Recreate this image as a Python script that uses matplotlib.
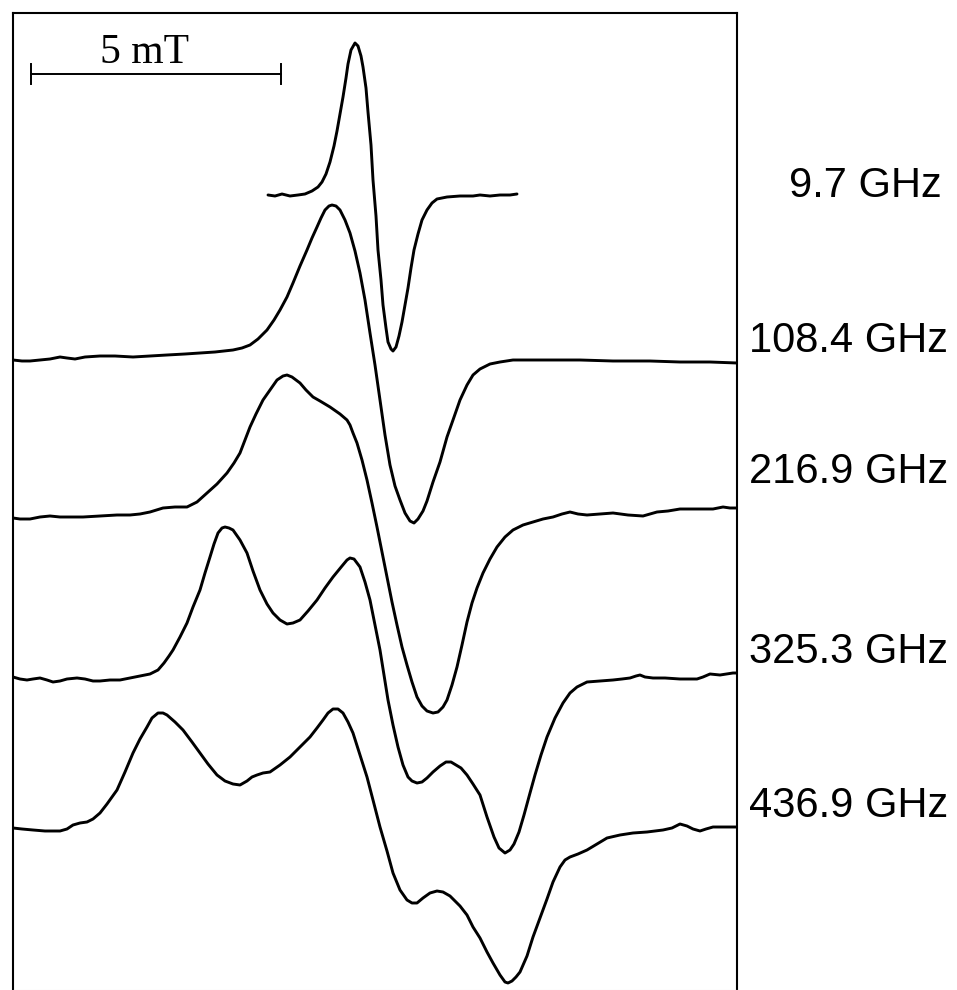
import numpy as np
import matplotlib
matplotlib.use("Agg")
import matplotlib.pyplot as plt

# Magnetic field (mT, relative to left edge of window) and derivative signal (a.u.)
field_97 = [5.10, 5.24, 5.38, 5.54, 5.70, 5.84, 5.98, 6.10, 6.18, 6.26, 6.34, 6.42,
            6.48, 6.54, 6.60, 6.66, 6.70, 6.76, 6.84, 6.90, 6.96, 7.00, 7.06, 7.10,
            7.16, 7.20, 7.26, 7.30, 7.36, 7.40, 7.46, 7.50, 7.56, 7.60, 7.66, 7.72,
            7.78, 7.84, 7.90, 7.96, 8.02, 8.10, 8.18, 8.28, 8.38, 8.48, 8.68, 8.94,
            9.20, 9.34, 9.54, 9.74, 9.94, 10.08]
signal_97 = [0.0, -0.1, 0.1, -0.1, 0.0, 0.1, 0.4, 0.8, 1.3, 2.1, 3.3, 4.9,
             6.4, 8.1, 9.8, 11.7, 13.1, 14.5, 15.2, 14.9, 13.9, 12.8, 10.7, 8.3,
             5.0, 1.5, -2.1, -5.5, -8.5, -11.0, -13.3, -14.7, -15.4, -15.6, -15.2, -14.1,
             -12.7, -11.0, -9.3, -7.3, -5.5, -3.9, -2.5, -1.5, -0.8, -0.4, -0.2, -0.1,
             -0.1, 0.0, -0.1, 0.0, 0.0, 0.1]

field_108 = [0.00, 0.18, 0.34, 0.54, 0.74, 0.94, 1.08, 1.24, 1.44, 1.74, 2.04, 2.40,
             2.74, 3.08, 3.44, 3.74, 4.04, 4.40, 4.58, 4.74, 4.90, 5.08, 5.22, 5.34,
             5.48, 5.60, 5.74, 5.88, 5.98, 6.08, 6.16, 6.24, 6.32, 6.38, 6.46, 6.54,
             6.64, 6.74, 6.84, 6.94, 7.04, 7.14, 7.24, 7.34, 7.44, 7.54, 7.64, 7.74,
             7.84, 7.94, 8.02, 8.10, 8.20, 8.28, 8.40, 8.54, 8.68, 8.80, 8.94, 9.08,
             9.20, 9.34, 9.54, 9.74, 10.00, 10.34, 10.68, 11.34, 12.00, 12.74, 13.34,
             13.94, 14.48]
signal_108 = [-0.2, -0.3, -0.3, -0.2, -0.1, 0.1, 0.0, -0.1, 0.1, 0.2, 0.2, 0.1,
              0.2, 0.3, 0.4, 0.5, 0.6, 0.8, 1.0, 1.3, 1.9, 2.8, 3.8, 4.8,
              6.1, 7.5, 9.2, 10.8, 12.0, 13.1, 14.0, 14.8, 15.2, 15.3, 15.2, 14.8,
              13.8, 12.5, 10.7, 8.5, 5.8, 2.5, -0.7, -4.2, -7.7, -10.7, -12.8, -14.2,
              -15.5, -16.3, -16.5, -16.1, -15.3, -14.3, -12.4, -10.4, -7.9, -6.2, -4.2, -2.7,
              -1.7, -1.1, -0.6, -0.4, -0.2, -0.2, -0.2, -0.2, -0.3, -0.3, -0.4,
              -0.4, -0.5]

field_217 = [0.00, 0.14, 0.34, 0.54, 0.74, 0.94, 1.14, 1.40, 1.74, 2.08, 2.34, 2.54,
             2.74, 3.00, 3.24, 3.48, 3.68, 3.88, 4.08, 4.28, 4.42, 4.54, 4.64, 4.74,
             4.86, 5.00, 5.14, 5.28, 5.40, 5.48, 5.58, 5.74, 5.86, 6.00, 6.14, 6.34,
             6.54, 6.68, 6.74, 6.80, 6.88, 6.98, 7.08, 7.18, 7.28, 7.38, 7.48, 7.58,
             7.68, 7.78, 7.88, 7.98, 8.08, 8.18, 8.28, 8.40, 8.50, 8.60, 8.68, 8.78,
             8.88, 8.98, 9.08, 9.18, 9.28, 9.40, 9.54, 9.68, 9.84, 10.00, 10.20, 10.40,
             10.60, 10.80, 10.98, 11.14, 11.30, 11.48, 11.74, 12.00, 12.30, 12.60, 12.74,
             12.88, 13.10, 13.34, 13.64, 14.00, 14.20, 14.34, 14.48]
signal_217 = [-0.2, -0.3, -0.3, -0.1, 0.0, -0.1, -0.1, -0.1, 0.0, 0.1, 0.1, 0.2,
              0.4, 0.8, 0.9, 0.9, 1.4, 2.3, 3.2, 4.3, 5.3, 6.3, 7.6, 8.9,
              10.2, 11.6, 12.6, 13.6, 14.0, 14.1, 13.9, 13.3, 12.6, 11.9, 11.5, 10.9,
              10.2, 9.6, 9.1, 8.3, 7.3, 5.6, 3.6, 1.3, -1.1, -3.6, -6.1, -8.6,
              -10.9, -13.1, -14.9, -16.6, -18.1, -19.0, -19.5, -19.7, -19.6, -19.1, -18.4, -16.9,
              -15.1, -12.9, -10.6, -8.7, -7.2, -5.7, -4.3, -3.1, -2.1, -1.4, -0.9, -0.6,
              -0.3, -0.1, 0.2, 0.4, 0.2, 0.1, 0.2, 0.3, 0.1, 0.0, 0.2,
              0.4, 0.5, 0.7, 0.7, 0.7, 0.9, 0.8, 0.8]

field_325 = [0.00, 0.14, 0.28, 0.40, 0.54, 0.68, 0.80, 0.94, 1.08, 1.28, 1.44, 1.60,
             1.74, 1.94, 2.14, 2.34, 2.54, 2.74, 2.90, 3.02, 3.12, 3.20, 3.34, 3.48,
             3.60, 3.74, 3.84, 3.94, 4.02, 4.10, 4.18, 4.24, 4.32, 4.40, 4.54, 4.68,
             4.80, 4.94, 5.08, 5.20, 5.34, 5.48, 5.60, 5.74, 5.90, 6.08, 6.24, 6.40,
             6.58, 6.68, 6.74, 6.82, 6.94, 7.04, 7.14, 7.24, 7.34, 7.42, 7.50, 7.60,
             7.70, 7.80, 7.90, 7.98, 8.08, 8.18, 8.28, 8.40, 8.54, 8.66, 8.76, 8.86,
             8.96, 9.08, 9.20, 9.34, 9.48, 9.62, 9.72, 9.84, 9.94, 10.02, 10.12, 10.22,
             10.34, 10.44, 10.56, 10.68, 10.84, 11.00, 11.14, 11.28, 11.48, 11.74, 12.00,
             12.18, 12.34, 12.46, 12.54, 12.64, 12.80, 13.04, 13.34, 13.68, 13.80, 13.94,
             14.14, 14.40, 14.48]
signal_325 = [0.2, 0.0, -0.1, 0.0, 0.1, -0.1, -0.3, -0.2, 0.0, 0.1, 0.0, -0.2,
              -0.2, -0.1, -0.1, 0.1, 0.3, 0.5, 0.9, 1.6, 2.3, 2.9, 4.2, 5.6,
              7.2, 8.9, 10.6, 12.2, 13.5, 14.6, 15.1, 15.2, 15.1, 14.9, 13.9, 12.6,
              10.8, 8.9, 7.5, 6.6, 5.9, 5.5, 5.6, 5.9, 6.8, 7.9, 9.1, 10.2,
              11.3, 11.9, 12.1, 12.0, 11.2, 9.7, 7.9, 5.4, 2.9, 0.4, -2.1, -4.6,
              -6.8, -8.6, -9.8, -10.2, -10.4, -10.3, -9.9, -9.3, -8.7, -8.3, -8.3, -8.6,
              -8.9, -9.6, -10.5, -11.6, -13.8, -15.8, -16.9, -17.4, -17.1, -16.5, -15.3, -13.6,
              -11.4, -9.6, -7.6, -5.8, -3.9, -2.4, -1.4, -0.8, -0.3, -0.2, -0.1,
              0.0, 0.1, 0.3, 0.4, 0.2, 0.1, 0.1, 0.0, 0.0, 0.2, 0.5,
              0.4, 0.6, 0.6]

field_437 = [0.00, 0.18, 0.40, 0.64, 0.94, 1.08, 1.20, 1.34, 1.48, 1.60, 1.74, 1.88,
             2.08, 2.24, 2.40, 2.54, 2.68, 2.78, 2.90, 3.00, 3.08, 3.24, 3.40, 3.58,
             3.74, 3.90, 4.08, 4.24, 4.40, 4.54, 4.68, 4.78, 4.88, 5.00, 5.14, 5.34,
             5.54, 5.74, 5.94, 6.08, 6.20, 6.30, 6.40, 6.50, 6.60, 6.70, 6.80, 6.94,
             7.08, 7.20, 7.34, 7.48, 7.60, 7.74, 7.88, 7.98, 8.08, 8.20, 8.34, 8.48,
             8.60, 8.74, 8.84, 8.94, 9.08, 9.20, 9.34, 9.48, 9.60, 9.74, 9.84, 9.90,
             9.98, 10.06, 10.14, 10.28, 10.40, 10.54, 10.68, 10.80, 10.94, 11.04, 11.14,
             11.30, 11.48, 11.68, 11.88, 12.14, 12.40, 12.68, 13.00, 13.18, 13.34, 13.48,
             13.60, 13.74, 13.86, 14.00, 14.24, 14.48]
signal_437 = [0.1, 0.0, -0.1, -0.2, -0.2, 0.0, 0.4, 0.6, 0.7, 1.0, 1.6, 2.5,
              3.9, 5.7, 7.6, 9.0, 10.2, 11.1, 11.6, 11.6, 11.4, 10.7, 9.9, 8.7,
              7.6, 6.5, 5.4, 4.8, 4.5, 4.4, 4.8, 5.2, 5.4, 5.6, 5.7, 6.4,
              7.2, 8.2, 9.2, 10.1, 10.9, 11.6, 12.0, 12.0, 11.6, 10.7, 9.6, 7.4,
              5.2, 2.9, 0.2, -2.2, -4.4, -6.1, -7.1, -7.4, -7.4, -6.9, -6.4, -6.2,
              -6.3, -6.7, -7.2, -7.7, -8.6, -9.8, -10.9, -12.3, -13.4, -14.6, -15.3, -15.4,
              -15.2, -14.8, -14.3, -12.7, -10.8, -8.9, -7.0, -5.3, -3.8, -3.1, -2.8,
              -2.5, -2.1, -1.5, -0.9, -0.6, -0.4, -0.3, -0.1, 0.1, 0.5, 0.3,
              0.0, -0.2, 0.0, 0.2, 0.2, 0.2]

traces = [field_97, field_108, field_217, field_325, field_437]
signals = [signal_97, signal_108, signal_217, signal_325, signal_437]
offsets = [79.5, 63.2, 47.4, 31.1, 16.1]
labels = ["9.7 GHz", "108.4 GHz", "216.9 GHz", "325.3 GHz", "436.9 GHz"]
label_left_px = [789, 749, 749, 749, 749]
label_base_px = [197, 352, 483, 663, 817]

scale_bar_mT = 5.0

W, H = 957, 990
fig = plt.figure(figsize=(W / 100, H / 100), dpi=100)
ax = fig.add_axes([13 / W, 0.0, 724 / W, 977 / H])
ax.set_xlim(0, 14.48)
ax.set_ylim(0, 97.7)
ax.set_xticks([])
ax.set_yticks([])
for sp in ax.spines.values():
    sp.set_linewidth(1.5)
    sp.set_color("black")
ax.spines["bottom"].set_color("#e4e4e4")
ax.spines["bottom"].set_linewidth(0.8)

for f, s, off in zip(traces, signals, offsets):
    ax.plot(f, np.asarray(s) + off, color="black", lw=2.1,
            solid_joinstyle="round", solid_capstyle="round")

# scale bar
x0 = 0.35
x1 = x0 + scale_bar_mT
yb = 91.6
ax.plot([x0, x1], [yb, yb], color="black", lw=1.4)
for xx in (x0, x1):
    ax.plot([xx, xx], [yb - 1.0, yb + 1.0], color="black", lw=1.4)
ax.text(2.62, 92.7, "5 mT", ha="center", va="baseline",
        fontsize=30, family="Liberation Serif")

for lab, xl, yl in zip(labels, label_left_px, label_base_px):
    fig.text(xl / W, 1 - yl / H, lab, ha="left", va="baseline",
             fontsize=30, family="Liberation Sans")

fig.savefig("out.png", dpi=100)
